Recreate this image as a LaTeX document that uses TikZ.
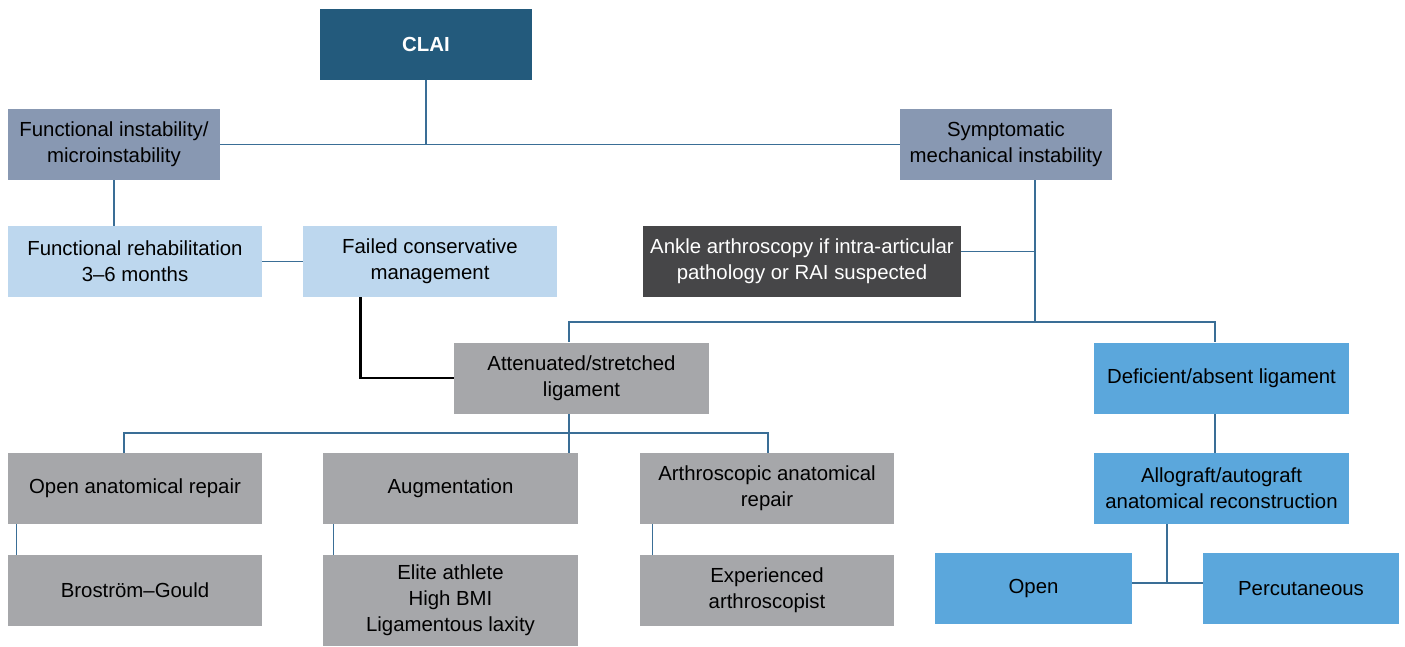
\documentclass[tikz,border=0pt]{standalone}
\usepackage{fontspec}
\setmainfont{Liberation Sans}
\definecolor{claiblue}{HTML}{235A7C}
\definecolor{slateblue}{HTML}{8898B2}
\definecolor{paleblue}{HTML}{BDD7EE}
\definecolor{darkbox}{HTML}{464648}
\definecolor{greybox}{HTML}{A6A7AA}
\definecolor{skyblue}{HTML}{5BA7DC}
\definecolor{linkblue}{HTML}{3A6E96}
\begin{document}
\begin{tikzpicture}[x=0.02cm, y=-0.02cm,
    box/.style={rectangle, inner sep=0pt, align=center, text=black,
      font=\fontsize{11.6}{14.8}\selectfont, minimum height=1.42cm},
    boxw/.style={minimum width=#1*0.02cm},
    link/.style={draw=linkblue, line width=0.7pt}]
    \useasboundingbox (0,0) rectangle (1405,646);
    % Top level
    \node[box,boxw=212,fill=claiblue,text=white,font=\fontsize{11.6}{14.8}\selectfont\bfseries] (clai) at (426,44.5) {CLAI};
    \node[box,boxw=212,fill=slateblue] (funct) at (114,144.5) {Functional instability/\\microinstability};
    \node[box,boxw=212,fill=slateblue] (sympt) at (1006,144.5) {Symptomatic\\mechanical instability};
    
    % Second level
    \node[box,boxw=254,fill=paleblue] (rehab) at (135,261.5) {Functional rehabilitation\\3--6 months};
    \node[box,boxw=254,fill=paleblue] (failed) at (430,261.5) {Failed conservative\\management};
    \node[box,boxw=318,fill=darkbox,text=white] (ankle) at (802,261.5) {Ankle arthroscopy if intra-articular\\pathology or RAI suspected};
    
    % Ligament state
    \node[box,boxw=255,fill=greybox] (atten) at (581.5,378) {Attenuated/stretched\\ligament};
    \node[box,boxw=255,fill=skyblue] (defic) at (1221.5,378) {Deficient/absent ligament};
    
    % Procedures
    \node[box,boxw=254,fill=greybox] (openrep) at (135,488.5) {Open anatomical repair};
    \node[box,boxw=255,fill=greybox] (augm) at (450.5,488.5) {Augmentation};
    \node[box,boxw=254,fill=greybox] (arthro) at (767,488.5) {Arthroscopic anatomical\\repair};
    \node[box,boxw=255,fill=skyblue] (allo) at (1221.5,488.5) {Allograft/autograft\\anatomical reconstruction};
    
    % Bottom row
    \node[box,boxw=254,fill=greybox] (brost) at (135,590.5) {Broström--Gould};
    \node[box,boxw=255,fill=greybox,minimum height=1.82cm] (elite) at (450.5,600.5) {Elite athlete\\High BMI\\Ligamentous laxity};
    \node[box,boxw=254,fill=greybox] (expert) at (767,590.5) {Experienced\\arthroscopist};
    \node[box,boxw=197,fill=skyblue] (open) at (1033.5,588.5) {Open};
    \node[box,boxw=196,fill=skyblue] (percut) at (1301,588.5) {Percutaneous};
    
    % Junction points
    \coordinate (symjoin) at (1035,322);
    \coordinate (splitA) at (569,322);
    \coordinate (splitB) at (1215,322);
    \coordinate (splitC) at (569,433);
    \coordinate (legL) at (124,433);
    \coordinate (legR) at (768,433);
    \coordinate (allojoin) at (1167,583);
    
    % Connectors
    \draw[link] (funct.east) -- (sympt.west);
    \draw[link] (clai.south) -- (clai.south |- funct.east);
    \draw[link] (funct.south) -- (funct.south |- rehab.north);
    \draw[link] (rehab.east) -- (failed.west);
    \draw[line width=1.6pt] ([xshift=1.16cm]failed.south west) |- (atten.west);
    \draw[link] (symjoin |- sympt.south) -- (symjoin);
    \draw[link] ([yshift=0.2cm]ankle.east) -- ([yshift=0.2cm]ankle.east -| symjoin);
    \draw[link] (splitA |- atten.north) -- (splitA) -- (splitB) -- (splitB |- defic.north);
    \draw[link] (splitC |- atten.south) -- (splitC) -- (splitC |- augm.north);
    \draw[link] (legL |- openrep.north) -- (legL) -- (legR) -- (legR |- arthro.north);
    \draw[link] ([xshift=0.17cm]openrep.south west) -- ([xshift=0.17cm]brost.north west);
    \draw[link] ([xshift=0.21cm]augm.south west) -- ([xshift=0.21cm]elite.north west);
    \draw[link] ([xshift=0.26cm]arthro.south west) -- ([xshift=0.26cm]expert.north west);
    \draw[link] ([xshift=-0.13cm]defic.south) -- ([xshift=-0.13cm]allo.north);
    \draw[link] (allojoin |- allo.south) -- (allojoin);
    \draw[link] ([yshift=0.11cm]open.east) -- ([yshift=0.11cm]percut.west);
\end{tikzpicture}
\end{document}
